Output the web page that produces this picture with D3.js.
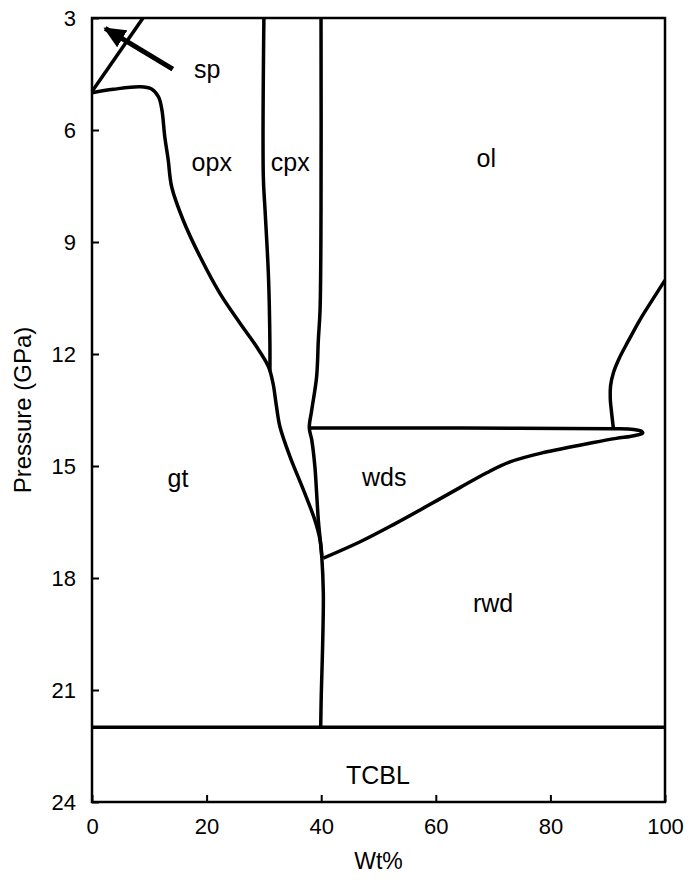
<!DOCTYPE html>
<html>
<head>
<meta charset="utf-8">
<script src="https://cdn.jsdelivr.net/npm/d3@7/dist/d3.min.js"></script>
<style>
  body { margin: 0; background: #fff; }
  text { font-family: "Liberation Sans", Arial, sans-serif; fill: #000; }
</style>
</head>
<body>
<svg id="chart" width="693" height="886"></svg>
<script>
// ticks
const xTicks = [0, 20, 40, 60, 80, 100];
const yTicks = [3, 6, 9, 12, 15, 18, 21, 24];

// phase boundaries, [wt%, pressure GPa]
const spLine = [[0, 4.97], [8.9, 3.0]];
const spArrow = [[14.1, 4.37], [2.3, 3.28]];
const gtLine = [
  [0, 5.0], [3.7, 4.91], [8.4, 4.84], [10.4, 4.9], [11.6, 5.11], [12.2, 5.46],
  [12.7, 6.18], [13.3, 6.8], [13.9, 7.52], [15.9, 8.41], [18.85, 9.39],
  [22.3, 10.37], [25.8, 11.17], [28.7, 11.8], [30.8, 12.34], [31.6, 12.79],
  [32.2, 13.41], [32.8, 13.95], [34.55, 14.75], [36.9, 15.64], [38.9, 16.45],
  [39.8, 16.98], [40.1, 17.41]
];
const cpxLine = [
  [30.0, 3.0], [29.9, 7.25], [30.2, 8.14], [30.8, 9.93], [31.05, 11.71], [31.05, 12.45]
];
const olLine = [
  [39.97, 3.0], [39.97, 8.14], [39.8, 10.82], [39.5, 11.63], [39.2, 12.61],
  [38.35, 13.5], [37.92, 13.98], [38.35, 14.3], [38.9, 15.02], [39.2, 15.72],
  [39.5, 16.45], [40.1, 17.43], [40.37, 18.4], [40.26, 19.74], [40.02, 21.08], [39.91, 22.0]
];
const wdsLoop = [
  [37.92, 13.98], [65, 13.985], [91, 14.0], [94.5, 14.02], [95.9, 14.07], [96.1, 14.12],
  [94.6, 14.19], [91.5, 14.26], [87.5, 14.37], [78.8, 14.64], [72.95, 14.89], [68.9, 15.18],
  [64.2, 15.58], [58.4, 16.08], [52.6, 16.57], [46.8, 17.03], [40.37, 17.47]
];
const rightLine = [
  [100, 10.02], [97.8, 10.55], [95.6, 11.09], [93.6, 11.65], [92.0, 12.12], [91.0, 12.5],
  [90.5, 12.85], [90.45, 13.2], [90.7, 13.6], [91.0, 14.0]
];
const tcblP = 22;

// field labels
const regionNames = ['sp', 'opx', 'cpx', 'ol', 'gt', 'wds', 'rwd', 'TCBL'];
const regionWt = [20.1, 20.9, 34.6, 68.8, 15.0, 51.0, 70.0, 49.9];
const regionP = [4.37, 6.86, 6.86, 6.75, 15.32, 15.3, 18.67, 23.28];

const svg = d3.select('#chart');
const margin = { top: 18, right: 28, bottom: 84, left: 92 };
const width = 693, height = 886;
const innerWidth = width - margin.left - margin.right;
const innerHeight = height - margin.top - margin.bottom;

const x = d3.scaleLinear().domain([0, 100]).range([0, innerWidth]);
const y = d3.scaleLinear().domain([3, 24]).range([0, innerHeight]);

const g = svg.append('g').attr('transform', `translate(${margin.left},${margin.top})`);

svg.append('defs').append('marker')
  .attr('id', 'head')
  .attr('markerUnits', 'userSpaceOnUse')
  .attr('viewBox', '0 0 22 20')
  .attr('refX', 20).attr('refY', 10)
  .attr('markerWidth', 22).attr('markerHeight', 20)
  .attr('orient', 'auto')
  .append('path').attr('d', 'M0,0L22,10L0,20Z').attr('fill', '#000');

// axes, ticks pointing inward
const xAxis = g.append('g').attr('transform', `translate(0,${innerHeight})`)
  .call(d3.axisBottom(x).tickValues(xTicks).tickSizeInner(-7).tickSizeOuter(0).tickPadding(16));
const yAxis = g.append('g')
  .call(d3.axisLeft(y).tickValues(yTicks).tickSizeInner(-7).tickSizeOuter(0).tickPadding(16));
[xAxis, yAxis].forEach(a => {
  a.select('.domain').remove();
  a.attr('font-family', null).attr('font-size', null);
  a.selectAll('line').attr('stroke', '#000').attr('stroke-width', 2);
  a.selectAll('text').attr('font-size', 22);
});

g.append('rect')
  .attr('width', innerWidth).attr('height', innerHeight)
  .attr('fill', 'none').attr('stroke', '#000').attr('stroke-width', 2.5);

const line = d3.line().x(d => x(d[0])).y(d => y(d[1]));
const smooth = d3.line().x(d => x(d[0])).y(d => y(d[1])).curve(d3.curveCatmullRom.alpha(0.5));

g.append('path').datum(spLine).attr('d', line)
  .attr('fill', 'none').attr('stroke', '#000').attr('stroke-width', 3.5);

[gtLine, cpxLine, olLine, wdsLoop, rightLine].forEach(d => g.append('path').datum(d).attr('d', smooth)
  .attr('fill', 'none').attr('stroke', '#000').attr('stroke-width', 3.5).attr('stroke-linejoin', 'round'));

g.append('line')
  .attr('x1', x(0)).attr('x2', x(100))
  .attr('y1', y(tcblP)).attr('y2', y(tcblP))
  .attr('stroke', '#000').attr('stroke-width', 3.5);

g.append('path').datum(spArrow).attr('d', line)
  .attr('fill', 'none').attr('stroke', '#000').attr('stroke-width', 5)
  .attr('marker-end', 'url(#head)');

g.selectAll('.region')
  .data(regionNames)
  .join('text')
  .attr('class', 'region')
  .attr('x', (d, i) => x(regionWt[i]))
  .attr('y', (d, i) => y(regionP[i]))
  .attr('dy', '0.35em')
  .attr('text-anchor', 'middle')
  .attr('font-size', 25)
  .text(d => d);

svg.append('text')
  .attr('x', margin.left + innerWidth / 2)
  .attr('y', 869)
  .attr('text-anchor', 'middle')
  .attr('font-size', 23)
  .text('Wt%');

svg.append('text')
  .attr('transform', `translate(31,${margin.top + innerHeight / 2}) rotate(-90)`)
  .attr('text-anchor', 'middle')
  .attr('font-size', 24)
  .text('Pressure (GPa)');
</script>
</body>
</html>
